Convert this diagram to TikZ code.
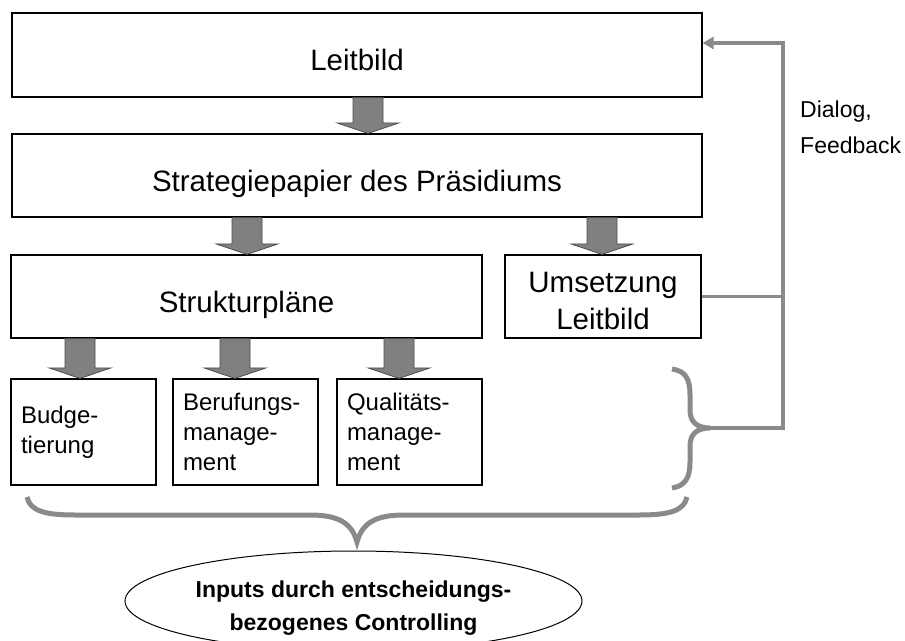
\documentclass[tikz,border=0pt]{standalone}
\usepackage{fontspec}
\setmainfont{Liberation Sans}
\usetikzlibrary{calc,shapes.geometric,arrows.meta}
\definecolor{arrowgray}{HTML}{808080}
\definecolor{linegray}{HTML}{8A8A8A}

% broad grey arrow pointing down from the bottom of one box to the top of the next
% #1: horizontal position, #2: upper node, #3: lower node
\newcommand\downarrowat[3]{%
  \draw[blockarrow] let \p1=(#2.south), \p2=(#3.north) in
    (#1pt-15pt,\y1) -- (#1pt+15pt,\y1) -- (#1pt+15pt,\y2+10.5pt) -- (#1pt+31pt,\y2+10.5pt)
    -- (#1pt,\y2) -- (#1pt-31pt,\y2+10.5pt) -- (#1pt-15pt,\y2+10.5pt) -- cycle;}

\begin{document}
\begin{tikzpicture}[x=1pt,y=-1pt,
  box/.style={draw=black, line width=1.2pt, fill=white, inner sep=0pt},
  bigbox/.style={box, font=\fontsize{29.5}{37}\selectfont, align=center},
  oneline/.style={text height=31pt, text depth=0pt},
  smallbox/.style={box, minimum width=145, minimum height=106, text width=125pt,
    inner xsep=10pt, align=left, font=\fontsize{24}{30}\selectfont},
  blockarrow/.style={fill=arrowgray, draw=black!70, line width=0.8pt, line join=miter},
  feedback/.style={draw=linegray, line width=3.5pt},
  bracket/.style={draw=linegray, line width=5pt}
]
\useasboundingbox (0,0) rectangle (905,640);
\fill[white] (0,0) rectangle (905,640);

% main hierarchy
\node[bigbox, oneline, minimum width=690, minimum height=84] (leit) at (357,55) {Leitbild};
\node[bigbox, oneline, minimum width=690, minimum height=83] (strat) at (357,175.5) {Strategiepapier des Präsidiums};
\node[bigbox, oneline, minimum width=471, minimum height=83] (struk) at (246.5,296.5) {Strukturpläne};
\node[bigbox, minimum width=196, minimum height=83] (ums) at (603,296.5) {\rule{0pt}{29pt}Umsetzung\\Leitbild};

\node[smallbox] (budg) at (83.5,432) {Budge-\\tierung};
\node[smallbox] (beruf) at (245.5,432) {Berufungs-\\manage-\\ment};
\node[smallbox] (qual) at (409.5,432) {Qualitäts-\\manage-\\ment};

% broad arrows between the levels
\downarrowat{368}{leit}{strat}
\downarrowat{247}{strat}{struk}
\downarrowat{602}{strat}{ums}
\downarrowat{80}{struk}{budg}
\downarrowat{235}{struk}{beruf}
\downarrowat{399}{struk}{qual}

% feedback loop back to the Leitbild
\coordinate (fbtop) at (783,43);
\coordinate (fbbot) at (783,428);
\coordinate (btip) at (710,428);
\draw[feedback] (ums.east) -- (ums.east -| fbtop);
\draw[feedback] (btip) -- (fbbot) -- ([yshift=-1.75pt]fbtop);
\draw[feedback, -{Triangle[length=11pt,width=12pt]}] ([xshift=1.75pt]fbtop) -- (fbtop -| leit.east);

\node[anchor=north west, inner sep=0pt, align=left, font=\fontsize{23}{36}\selectfont]
  (dlg) at (800,100.5) {Dialog,\\Feedback};

% right curly bracket over the three instruments
\draw[bracket] (672,369) .. controls (685,371) and (690,378) .. (690,395) -- (690,410)
  .. controls (690,422) and (697,428) .. (btip)
  .. controls (697,428) and (690,434) .. (690,446) -- (690,462)
  .. controls (690,478) and (685,486) .. (672,488);

% bottom curly bracket leading to the controlling inputs
\draw[bracket] (27,497) .. controls (30,511) and (45,515) .. (75,515) -- (310,515)
  .. controls (340,515) and (352,524) .. (357,542)
  .. controls (362,524) and (374,515) .. (404,515) -- (639,515)
  .. controls (669,515) and (684,511) .. (687,497);

\node[ellipse, draw=black, line width=1pt, minimum width=457, minimum height=100,
  inner sep=0pt, align=center, font=\bfseries\fontsize{23}{33}\selectfont]
  (inp) at (353.5,601) {\rule{0pt}{31pt}Inputs durch entscheidungs-\\bezogenes Controlling};
\end{tikzpicture}
\end{document}
